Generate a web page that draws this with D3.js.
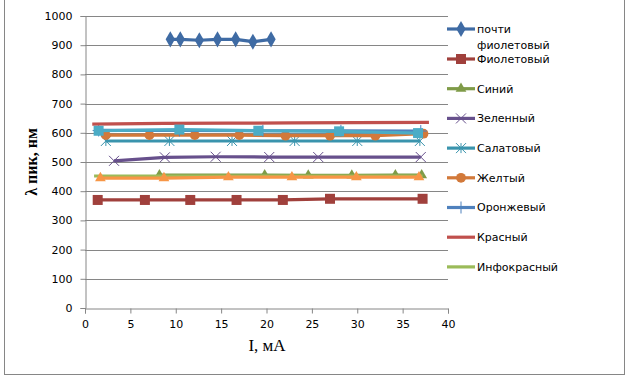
<!DOCTYPE html>
<html>
<head>
<meta charset="utf-8">
<script src="https://cdn.jsdelivr.net/npm/d3@7"></script>
<style>
  body { margin: 0; background: #fff; }
  svg { display: block; }
</style>
</head>
<body>
<svg id="chart" width="631" height="375"></svg>
<script>
// series names as in the legend (the last two series are cut off from the legend)
const names = ["почти фиолетовый", "Фиолетовый", "Синий", "Зеленный", "Салатовый",
               "Желтый", "Оронжевый", "Красный", "Инфокрасный", "", ""];
const colors = ["#3F6BA4", "#A0403C", "#7F9B48", "#67508C", "#3A94AD",
                "#D2793A", "#4F81BD", "#C0504D", "#9BBB59", "#4BACC6", "#F79646"];
const markers = ["diamond", "square", "triangle", "x", "star",
                 "circle", "plus", "none", "none", "square", "triangle"];

// I, mA
const xPochti   = [9.4, 10.5, 12.6, 14.6, 16.6, 18.5, 20.5];
const xFiolet   = [1.4, 6.6, 11.6, 16.7, 21.8, 27.0, 37.2];
const xSiniy    = [8.2, 19.8, 24.6, 29.4, 34.2, 37.1];
const xZelen    = [3.2, 8.8, 14.4, 20.3, 25.7, 37.0];
const xSalat    = [2.3, 9.3, 16.2, 23.1, 30.0, 36.9];
const xZhelt    = [2.3, 7.1, 12.1, 17.0, 22.1, 27.0, 32.0, 37.3];
const xOranzh   = [1.5, 10.4, 19.6, 28.2, 37.0];
const xKrasn    = [0.8, 8.7, 15.8, 22.8, 29.9, 37.9];
const xInfo     = [1.0, 8.7, 15.8, 22.8, 29.9, 37.2];
const xAqua     = [1.5, 10.4, 19.1, 28.0, 36.7];
const xOrange   = [1.7, 8.7, 15.8, 22.8, 29.9, 36.8];

// lambda peak, nm
const yPochti   = [920, 920, 917, 920, 920, 912, 920];
const yFiolet   = [370, 370, 370, 370, 370, 374, 374];
const ySiniy    = [455, 455, 454, 454, 455, 455];
const yZelen    = [504, 516, 518, 517, 517, 517];
const ySalat    = [572, 572, 572, 572, 572, 572];
const yZhelt    = [592, 592, 592, 592, 590, 590, 590, 597];
const yOranzh   = [608, 608, 607, 607, 606];
const yKrasn    = [630, 632, 633, 634, 635, 636];
const yInfo     = [452, 452, 452, 452, 452, 452];
const yAqua     = [607, 611, 607, 605, 599];
const yOrange   = [445, 445, 448, 448, 448, 448];

const xTicks = [0, 5, 10, 15, 20, 25, 30, 35, 40];
const yTicks = [0, 100, 200, 300, 400, 500, 600, 700, 800, 900, 1000];

const xs = [xPochti, xFiolet, xSiniy, xZelen, xSalat, xZhelt, xOranzh, xKrasn, xInfo, xAqua, xOrange];
const ys = [yPochti, yFiolet, ySiniy, yZelen, ySalat, yZhelt, yOranzh, yKrasn, yInfo, yAqua, yOrange];
const series = names.map((n, i) => ({
  name: n, color: colors[i], marker: markers[i],
  values: xs[i].map((x, j) => [x, ys[i][j]])
}));

const svg = d3.select("#chart");
const gray = "#868686";
const plot = {left: 85, right: 448, top: 16, bottom: 308};

// outer chart frame
svg.append("rect")
  .attr("x", 4.5).attr("y", -2)
  .attr("width", 620).attr("height", 376.5)
  .attr("fill", "none").attr("stroke", gray).attr("stroke-width", 1);

const x = d3.scaleLinear().domain([0, 40]).range([plot.left, plot.right]);
const y = d3.scaleLinear().domain([0, 1000]).range([plot.bottom, plot.top]);

// gridlines
svg.append("g")
  .selectAll("line")
  .data(yTicks.slice(1))
  .join("line")
    .attr("x1", plot.left).attr("x2", plot.right)
    .attr("y1", d => Math.round(y(d)) + 0.5).attr("y2", d => Math.round(y(d)) + 0.5)
    .attr("stroke", gray).attr("stroke-width", 1);

// axes
const yAxis = svg.append("g")
  .attr("transform", `translate(${plot.left + 0.5},0)`)
  .call(d3.axisLeft(y).tickValues(yTicks).tickSize(5).tickPadding(8).tickFormat(d3.format("d")));
const xAxis = svg.append("g")
  .attr("transform", `translate(0,${Math.round(plot.bottom) + 0.5})`)
  .call(d3.axisBottom(x).tickValues(xTicks).tickSize(5).tickPadding(7));
[xAxis, yAxis].forEach(a => {
  a.select(".domain").attr("stroke", gray);
  a.selectAll(".tick line").attr("stroke", gray);
  a.selectAll("text")
    .attr("fill", "#000")
    .style("font-family", "'DejaVu Sans', Verdana, sans-serif")
    .style("font-size", "11px");
});

// axis titles
svg.append("text")
  .attr("x", 267).attr("y", 351)
  .attr("text-anchor", "middle")
  .style("font-family", "'Liberation Serif', 'Times New Roman', serif")
  .style("font-size", "17px")
  .text("I, мА");
svg.append("text")
  .attr("transform", "translate(37,162) rotate(-90)")
  .attr("text-anchor", "middle")
  .style("font-family", "'Liberation Serif', 'Times New Roman', serif")
  .style("font-size", "16px")
  .style("font-weight", "bold")
  .text("λ пик, нм");

// marker drawing
function drawMarker(g, type, color) {
  const sym = {diamond: d3.symbolDiamond, square: d3.symbolSquare,
               triangle: d3.symbolTriangle, circle: d3.symbolCircle};
  if (sym[type]) {
    const size = {diamond: 75, square: 100, triangle: 50, circle: 75}[type];
    g.append("path").attr("d", d3.symbol(sym[type], size)).attr("fill", color);
  } else if (type === "x") {
    g.append("path").attr("d", "M-5,-5L5,5M-5,5L5,-5")
      .attr("stroke", color).attr("stroke-width", 1).attr("fill", "none");
  } else if (type === "star") {
    g.append("path").attr("d", "M-5,-5L5,5M-5,5L5,-5M0,-5L0,5")
      .attr("stroke", color).attr("stroke-width", 1).attr("fill", "none");
  } else if (type === "plus") {
    g.append("path").attr("d", "M0,-6L0,6M-6,0L6,0")
      .attr("stroke", color).attr("stroke-width", 1).attr("fill", "none");
  }
}

const line = d3.line().x(d => x(d[0])).y(d => y(d[1]));

series.forEach(s => {
  const g = svg.append("g");
  g.append("path")
    .datum(s.values)
    .attr("d", line)
    .attr("fill", "none")
    .attr("stroke", s.color)
    .attr("stroke-width", 3.2)
    .attr("stroke-linejoin", "round");
  g.selectAll("g.pt")
    .data(s.marker === "none" ? [] : s.values)
    .join("g")
      .attr("class", "pt")
      .attr("transform", d => `translate(${x(d[0])},${y(d[1])})`)
      .each(function() { drawMarker(d3.select(this), s.marker, s.color); });
});

// legend (only the first nine series fit)
const legend = svg.append("g");
const legendItems = series.filter(s => s.name !== "");
legendItems.forEach((s, i) => {
  const cy = i === 0 ? 29 : 59 + (i - 1) * 29.7;
  const g = legend.append("g").attr("transform", `translate(0,${cy})`);
  g.append("line").attr("x1", 447).attr("x2", 475)
    .attr("stroke", s.color).attr("stroke-width", 3.2);
  const m = g.append("g").attr("transform", "translate(461,0)");
  drawMarker(m, s.marker, s.color);
  const t = g.append("text")
    .attr("x", 477).attr("dy", "0.35em")
    .style("font-family", "'DejaVu Sans', Verdana, sans-serif")
    .style("font-size", "11px");
  const words = s.name.split(" ");
  if (words.length > 1) {
    t.append("tspan").attr("x", 477).text(words[0]);
    t.append("tspan").attr("x", 477).attr("dy", 16).text(words.slice(1).join(" "));
  } else {
    t.text(s.name);
  }
});
</script>
</body>
</html>
